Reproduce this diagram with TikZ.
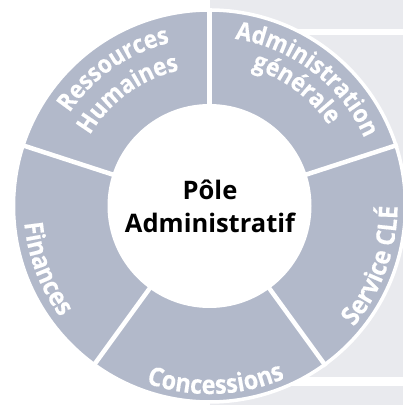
\documentclass[tikz,border=0pt]{standalone}
\usepackage{fontspec}
\setmainfont{Open Sans}
\newfontfamily\segfam[FakeStretch=0.9, BoldFeatures={FakeBold=0.4}]{Open Sans}
\usetikzlibrary{decorations.text,calc}
\definecolor{ringgrey}{HTML}{B2B9CA}
\definecolor{bggrey}{HTML}{E9EAEE}
\newcommand\seglbl{\segfam\bfseries\fontsize{26}{26}\selectfont\color{white}}
\newcommand\segtop{\segfam\bfseries\fontsize{25}{25}\selectfont\color{white}}
\begin{document}
\begin{tikzpicture}[x=1pt,y=1pt,
  ctext/.style={font=\fontsize{25.5}{30}\selectfont\bfseries, text=black, inner sep=0pt, anchor=base},
  gapline/.style={white, line width=4.5pt},
  arclabel/.style={decorate, decoration={text along path, text align=center, text={#1}}}]
\useasboundingbox (0,0) rectangle (403,405);
% background panel
\fill[bggrey] (210,0) rectangle (403,405);
\fill[white] (290,370) rectangle (403,376);
\fill[white] (290,19) rectangle (403,27.5);
% ring
\coordinate (C) at (209.5,199);
\fill[ringgrey, draw=white, line width=3.5pt] (C) circle[radius=196pt];
\fill[white] (C) circle[radius=102pt];
\foreach \a in {90,18,-54,-126,162}
  \draw[gapline] (C) -- ($(C)+(\a:198pt)$);
% segment labels
\path[arclabel={|\segtop|Ressources}] ($(C)+(165:168pt)$) arc[start angle=165, end angle=85, radius=168pt];
\path[arclabel={|\segtop|Humaines}] ($(C)+(166:139pt)$) arc[start angle=166, end angle=86, radius=139pt];
\path[arclabel={|\segtop|Administration}] ($(C)+(92.5:169pt)$) arc[start angle=92.5, end angle=12.5, radius=169pt];
\path[arclabel={|\segtop|générale}] ($(C)+(93.5:144pt)$) arc[start angle=93.5, end angle=13.5, radius=144pt];
\path[arclabel={|\seglbl|Service CLÉ}] ($(C)+(-60:188pt)$) arc[start angle=-60, end angle=20, radius=188pt];
\path[arclabel={|\seglbl|Concessions}] ($(C)+(-128:188pt)$) arc[start angle=-128, end angle=-48, radius=188pt];
\path[arclabel={|\seglbl|Finances}] ($(C)+(161:186pt)$) arc[start angle=161, end angle=241, radius=186pt];
% centre
\node[ctext] (pole) at (210,205.7) {Pôle};
\node[ctext] (admin) at (210,172.3) {Administratif};
\end{tikzpicture}
\end{document}
